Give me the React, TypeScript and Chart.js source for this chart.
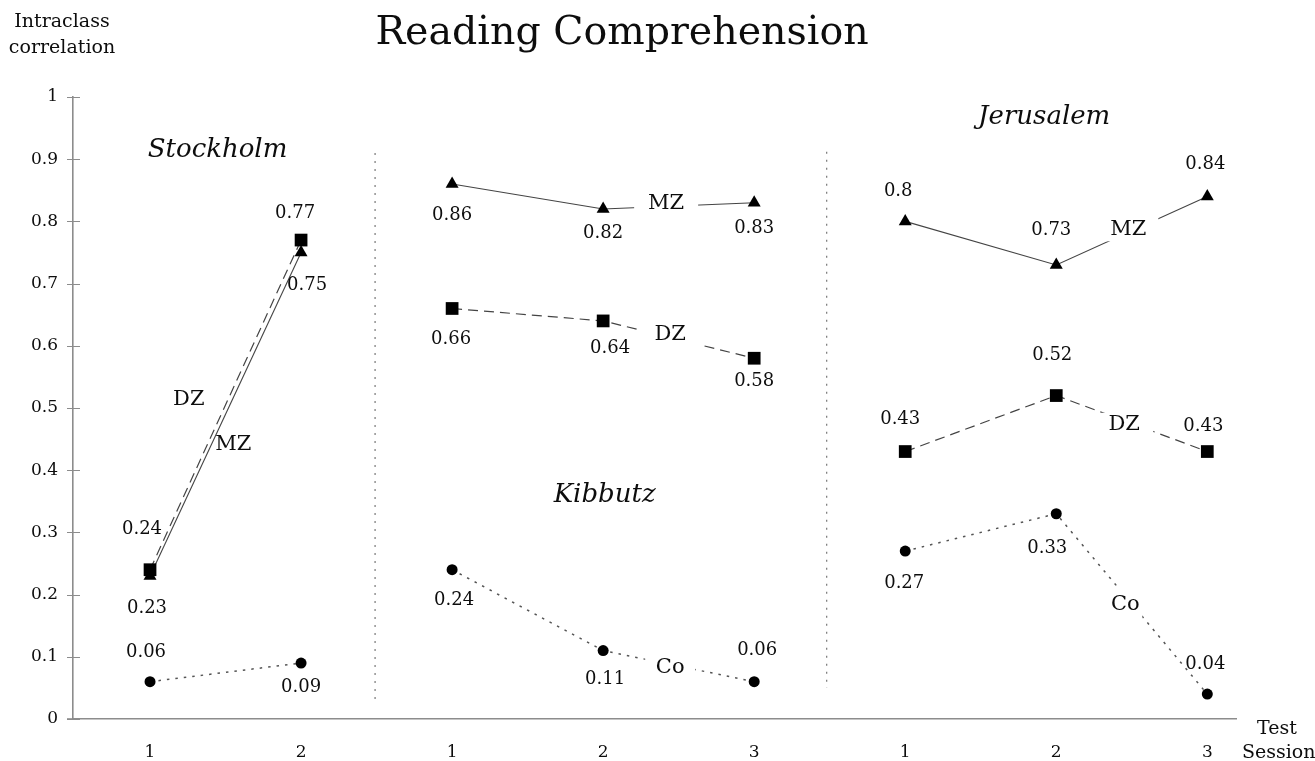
import React, { useEffect, useRef } from "react";
import { Chart, registerables } from "chart.js";

Chart.register(...registerables);

// ---------- data ----------
const chartTitle = "Reading Comprehension";
const siteNames = ["Stockholm", "Kibbutz", "Jerusalem"];
const sessionTickLabels = ["1", "2", "1", "2", "3", "1", "2", "3"];
const siteStartIndex = [0, 2, 5];
const yTickValues = [0, 0.1, 0.2, 0.3, 0.4, 0.5, 0.6, 0.7, 0.8, 0.9, 1];

const stockholmMZ = [0.23, 0.75];
const stockholmDZ = [0.24, 0.77];
const stockholmCo = [0.06, 0.09];

const kibbutzMZ = [0.86, 0.82, 0.83];
const kibbutzDZ = [0.66, 0.64, 0.58];
const kibbutzCo = [0.24, 0.11, 0.06];

const jerusalemMZ = [0.8, 0.73, 0.84];
const jerusalemDZ = [0.43, 0.52, 0.43];
const jerusalemCo = [0.27, 0.33, 0.04];

const seriesNames = ["DZ", "MZ", "Co"];

// ---------- layout / style (not data) ----------
const FONT = "'DejaVu Serif', serif";
const INK = "#0d0d0d";
const AXIS = "#8c8c8c";

const seriesStyle: Record<string, any> = {
  MZ: { pointStyle: "triangle", radius: 7.5, dash: [] as number[], width: 1.1, color: "#444" },
  DZ: { pointStyle: "rect", radius: 9, dash: [10, 6], width: 1.2, color: "#444" },
  Co: { pointStyle: "circle", radius: 5.5, dash: [2.5, 6], width: 1.5, color: "#555" },
};

// value label offsets in px relative to point [dx, dy]
const valueLabelOffsets: Record<string, number[][]>[] = [
  {
    MZ: [[-3, 32], [6, 33]],
    DZ: [[-8, -40], [-6, -27]],
    Co: [[-4, -29], [0, 24]],
  },
  {
    MZ: [[0, 31], [0, 24], [0, 26]],
    DZ: [[-1, 31], [7, 27], [0, 23]],
    Co: [[2, 31], [2, 29], [3, -31]],
  },
  {
    MZ: [[-7, -30], [-5, -35], [-2, -32]],
    DZ: [[-5, -32], [-4, -40], [-4, -25]],
    Co: [[-1, 32], [-9, 35], [-2, -30]],
  },
];

const seriesLabelLayout = [
  { site: 0, series: "DZ", seg: 0, t: 0.515, dx: -39, dy: 0, w: 0, h: 0 },
  { site: 0, series: "MZ", seg: 0, t: 0.406, dx: 22, dy: 0, w: 0, h: 0 },
  { site: 1, series: "MZ", seg: 1, t: 0.417, dx: 0, dy: -3, w: 64, h: 22 },
  { site: 1, series: "DZ", seg: 1, t: 0.444, dx: 0, dy: -3, w: 60, h: 22 },
  { site: 1, series: "Co", seg: 1, t: 0.444, dx: 0, dy: 3, w: 50, h: 22 },
  { site: 2, series: "MZ", seg: 1, t: 0.477, dx: 0, dy: -3, w: 60, h: 24 },
  { site: 2, series: "DZ", seg: 1, t: 0.45, dx: 0, dy: 4, w: 58, h: 24 },
  { site: 2, series: "Co", seg: 1, t: 0.457, dx: 0, dy: 8, w: 34, h: 36 },
];

// site name label anchor (x in session index units, y in correlation units)
const siteLabelAnchor = [
  [0.447, 0.915],
  [3.01, 0.36],
  [5.92, 0.967],
];

// dotted separators: [x index, y from, y to]
const separators = [
  [1.49, 0.91, 0.03],
  [4.48, 0.912, 0.05],
];

const siteSeries: Record<string, number[]>[] = [
  { MZ: stockholmMZ, DZ: stockholmDZ, Co: stockholmCo },
  { MZ: kibbutzMZ, DZ: kibbutzDZ, Co: kibbutzCo },
  { MZ: jerusalemMZ, DZ: jerusalemDZ, Co: jerusalemCo },
];

export default function App() {
  const ref = useRef<HTMLCanvasElement | null>(null);

  useEffect(() => {
    document.body.style.margin = "0";
    const canvas = ref.current;
    if (!canvas) return;

    const datasets: any[] = [];
    siteSeries.forEach((group, s) => {
      seriesNames.forEach((name) => {
        const st = seriesStyle[name];
        datasets.push({
          label: `${siteNames[s]} ${name}`,
          data: group[name].map((v, i) => ({ x: siteStartIndex[s] + i, y: v })),
          borderColor: st.color,
          borderWidth: st.width,
          borderDash: st.dash,
          pointStyle: st.pointStyle,
          pointRadius: st.radius,
          pointBackgroundColor: "#000",
          pointBorderColor: "#000",
          pointBorderWidth: 0,
          tension: 0,
          fill: false,
          clip: false,
        });
      });
    });

    const overlay = {
      id: "overlay",
      beforeDatasetsDraw(chart: any) {
        const { ctx, scales } = chart;
        const xs = scales.x;
        const ys = scales.y;
        ctx.save();
        // separators
        ctx.strokeStyle = "#777";
        ctx.lineWidth = 1.2;
        ctx.setLineDash([2, 6]);
        separators.forEach(([xi, y0, y1]) => {
          const px = xs.getPixelForValue(xi);
          ctx.beginPath();
          ctx.moveTo(px, ys.getPixelForValue(y0));
          ctx.lineTo(px, ys.getPixelForValue(y1));
          ctx.stroke();
        });
        ctx.setLineDash([]);
        // y tick marks crossing the axis
        ctx.strokeStyle = AXIS;
        ctx.lineWidth = 1;
        const left = chart.chartArea.left;
        yTickValues.forEach((v) => {
          const py = Math.round(ys.getPixelForValue(v)) + 0.5;
          ctx.beginPath();
          ctx.moveTo(left - 6, py);
          ctx.lineTo(left + 7, py);
          ctx.stroke();
        });
        // slight extension of the x axis to the left of the y axis
        ctx.lineWidth = 1.6;
        ctx.beginPath();
        ctx.moveTo(left - 6, chart.chartArea.bottom);
        ctx.lineTo(left, chart.chartArea.bottom);
        ctx.stroke();
        ctx.restore();
      },
      afterDatasetsDraw(chart: any) {
        const { ctx, scales } = chart;
        const xs = scales.x;
        const ys = scales.y;
        ctx.save();
        ctx.fillStyle = INK;
        ctx.textAlign = "center";
        ctx.textBaseline = "middle";

        // value labels
        ctx.font = `18px ${FONT}`;
        siteSeries.forEach((group, s) => {
          seriesNames.forEach((name) => {
            group[name].forEach((v, i) => {
              const off = valueLabelOffsets[s][name][i];
              const px = xs.getPixelForValue(siteStartIndex[s] + i) + off[0];
              const py = ys.getPixelForValue(v) + off[1];
              ctx.fillText(String(v), px, py);
            });
          });
        });

        // series labels with gap in the line
        ctx.font = `21px ${FONT}`;
        seriesLabelLayout.forEach((L) => {
          const vals = siteSeries[L.site][L.series];
          const x0 = siteStartIndex[L.site] + L.seg;
          const xv = x0 + L.t;
          const yv = vals[L.seg] + (vals[L.seg + 1] - vals[L.seg]) * L.t;
          const px = xs.getPixelForValue(xv) + L.dx;
          const py = ys.getPixelForValue(yv) + L.dy;
          if (L.w > 0) {
            ctx.fillStyle = "#fff";
            ctx.fillRect(px - L.w / 2, py - L.h / 2, L.w, L.h);
          }
          ctx.fillStyle = INK;
          ctx.fillText(L.series, px, py);
        });

        // site names
        ctx.font = `italic 26px ${FONT}`;
        siteNames.forEach((n, s) => {
          const [xi, yv] = siteLabelAnchor[s];
          ctx.fillText(n, xs.getPixelForValue(xi), ys.getPixelForValue(yv));
        });

        // title
        ctx.font = `39.5px ${FONT}`;
        ctx.fillText(chartTitle, 622, 34);

        // axis titles
        ctx.font = `19px ${FONT}`;
        ctx.fillText("Intraclass", 62, 22);
        ctx.fillText("correlation", 62, 48);
        ctx.textAlign = "left";
        ctx.fillText("Test", 1257, 729);
        ctx.fillText("Session", 1242, 753);
        ctx.restore();
      },
    };

    const chart = new Chart(canvas, {
      type: "line",
      data: { datasets },
      options: {
        animation: false,
        responsive: false,
        maintainAspectRatio: false,
        layout: { padding: { top: 97, right: 79, left: 0, bottom: 0 } },
        plugins: {
          legend: { display: false },
          tooltip: { enabled: false },
          title: { display: false },
        },
        scales: {
          x: {
            type: "linear",
            min: -0.51,
            max: 7.19,
            afterBuildTicks: (s: any) => {
              s.ticks = sessionTickLabels.map((_, i) => ({ value: i }));
            },
            afterFit: (s: any) => {
              s.height = 42;
            },
            grid: { display: true, drawOnChartArea: false, drawTicks: false },
            border: { display: true, color: AXIS, width: 1.6 },
            ticks: {
              autoSkip: false,
              maxRotation: 0,
              padding: 23,
              color: INK,
              font: { family: FONT, size: 17 },
              callback: (v: any) => sessionTickLabels[Math.round(Number(v))] ?? "",
            },
          },
          y: {
            type: "linear",
            min: 0,
            max: 1,
            afterBuildTicks: (s: any) => {
              s.ticks = yTickValues.map((v) => ({ value: v }));
            },
            afterFit: (s: any) => {
              s.width = 73;
            },
            grid: { display: true, drawOnChartArea: false, drawTicks: false },
            border: { display: true, color: AXIS, width: 1.6 },
            ticks: {
              padding: 15,
              color: INK,
              font: { family: FONT, size: 17 },
              callback: (v: any) => String(Math.round(Number(v) * 10) / 10),
            },
          },
        },
      },
      plugins: [overlay],
    });

    return () => chart.destroy();
  }, []);

  return (
    <div style={{ position: "absolute", left: 0, top: 0, width: 1315, height: 761, background: "#fff" }}>
      <canvas ref={ref} width={1315} height={761} style={{ width: 1315, height: 761, display: "block" }} />
    </div>
  );
}
